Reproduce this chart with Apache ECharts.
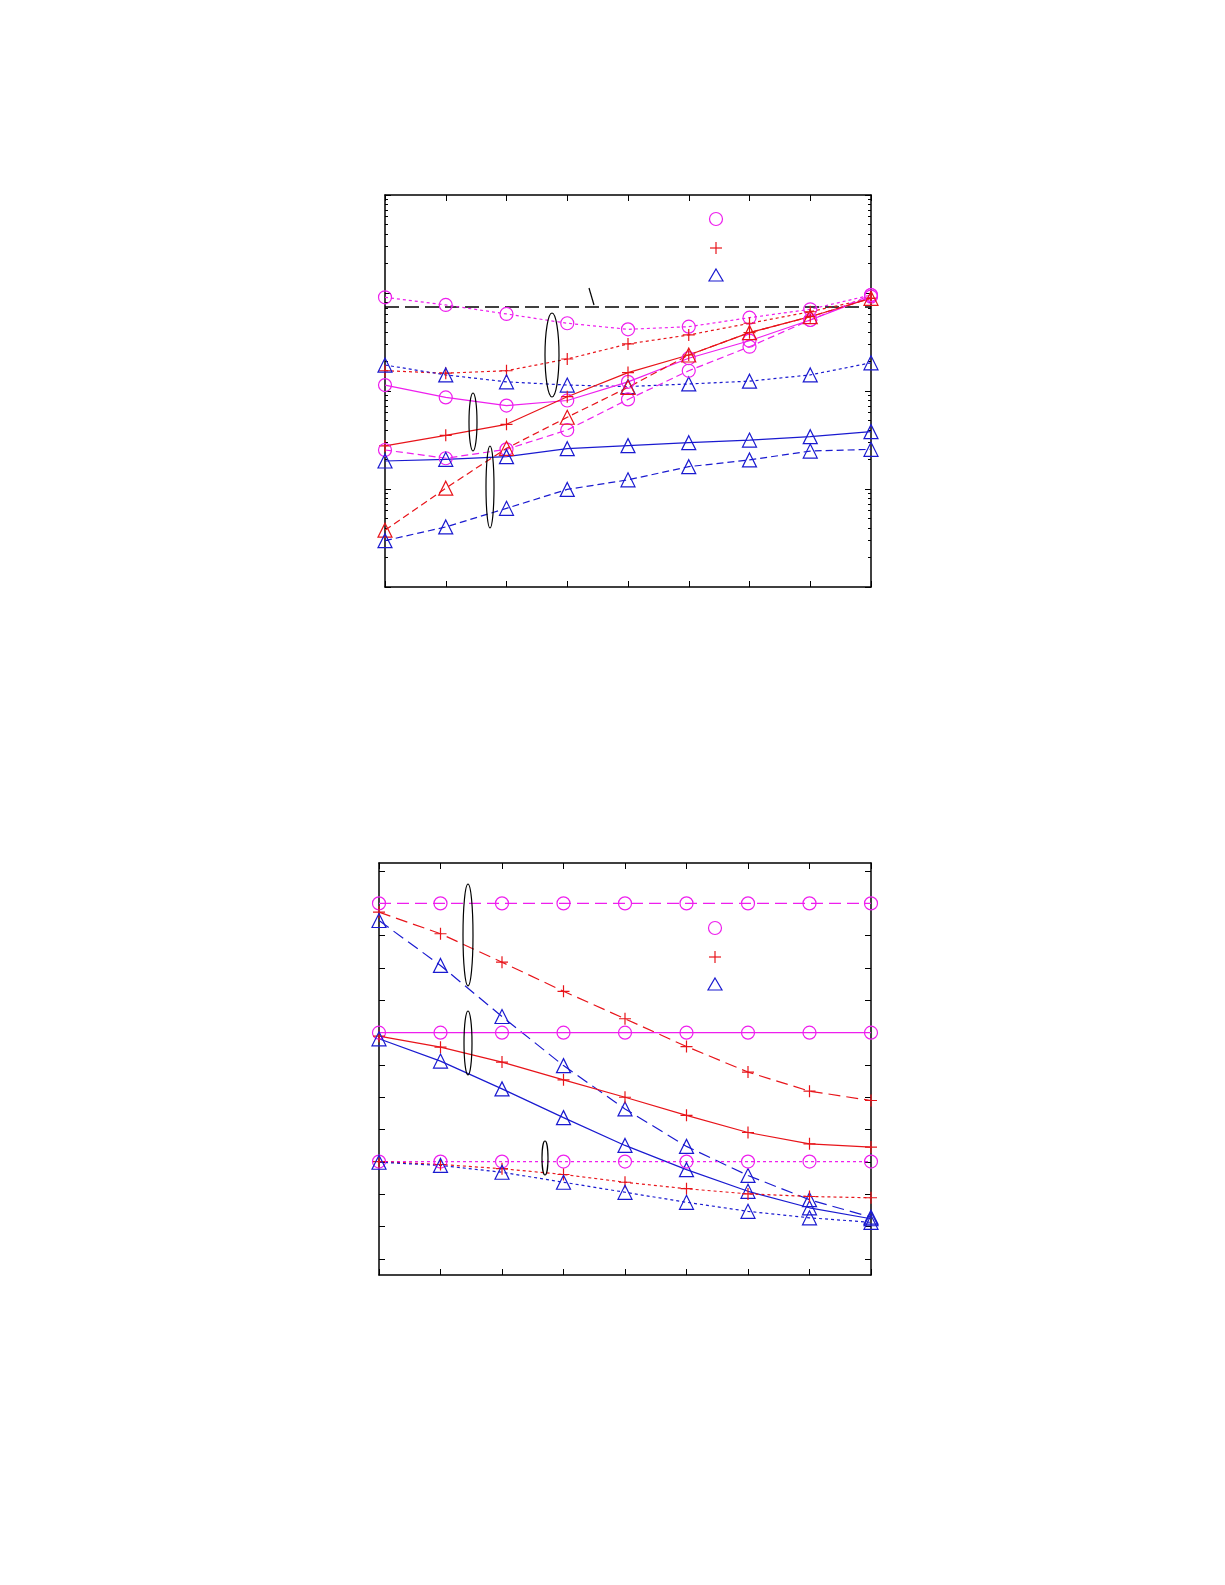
<!DOCTYPE html>
<html><head><meta charset="utf-8">
<script src="https://cdn.jsdelivr.net/npm/echarts@6/dist/echarts.min.js"></script>
<style>html,body{margin:0;background:#fff}#c{width:1225px;height:1585px}</style></head>
<body><div id="c"></div>
<script>
const xs = [0,1,2,3,4,5,6,7,8];
// top chart (log scale)
const topMagDot = [904,755,611,491,426,453,560,682,954];
const topRedDot = [161,152,161,212,302,373,491,644,883];
const topBluDot = [184,146,124,115,111,118,126,146,194];
const topMagSol = [115,86,71,80,124,216,326,530,917];
const topRedSol = [27.5,35.3,45.7,87.5,154,233,394,573,883];
const topMagDash = [25,20.6,25.4,40,82,161,283,530,954];
const topRedDashTri = [3.8,10.2,26,54,109,233,394,573,883];
const topBluSol = [19.3,20.1,21.4,25.8,27.7,29.7,31.6,34.2,38.5];
const topBluDash = [2.97,4.1,6.35,9.9,12.4,16.9,19.8,24.4,25.4];
const topRef = 720;
// bottom chart (linear)
const botMagDash = [11,11,11,11,11,11,11,11,11];
const botRedDash = [10.73,10.06,9.18,8.28,7.43,6.57,5.78,5.19,4.90];
const botBluDash = [10.47,9.08,7.50,5.98,4.64,3.48,2.58,1.83,1.29];
const botMagSol = [7,7,7,7,7,7,7,7,7];
const botRedSol = [6.89,6.55,6.09,5.54,5.00,4.44,3.91,3.56,3.46];
const botBluSol = [6.81,6.12,5.26,4.37,3.51,2.76,2.09,1.58,1.24];
const botMagDot = [3.01,3.01,3.01,3.01,3.01,3.01,3.01,3.01,3.01];
const botRedDot = [3.01,2.92,2.79,2.61,2.37,2.17,2.01,1.93,1.89];
const botBluDot = [2.99,2.89,2.68,2.37,2.06,1.75,1.47,1.27,1.13];

const MAG='#ee1fee', RED='#e8141a', BLU='#1a1ad0';
const PLUS='path://M6,0L6,12M0,6L12,6';
const SYM={c:'circle',p:PLUS,t:'triangle'};
const DOT=[3,3], DASH=[7,4], LDASH=[12,6];
function ser(g, data, color, sym, type){
  return {type:'line', xAxisIndex:g*2, yAxisIndex:g*2, data:data.map((v,i)=>[xs[i],v]),
    symbol:SYM[sym], symbolSize: sym==='p'?12:(sym==='t'?14:13),
    itemStyle:{color:'rgba(0,0,0,0)',borderColor:color,borderWidth:1.2},
    lineStyle:{color,width:1.2,type},
    emphasis:{disabled:true}, z:3, animation:false};
}
const ax=(g,pos,extra)=>Object.assign({gridIndex:g,position:pos,axisLine:{show:true,onZero:false,lineStyle:{color:'#000',width:1.5}},
  axisTick:{show:true,inside:true,length:6,lineStyle:{color:'#000'}},axisLabel:{show:false},splitLine:{show:false}},extra);
const xa=(g,pos)=>ax(g,pos,{type:'value',min:0,max:8,interval:1});
const yTop=(pos)=>ax(0,pos,{type:'log',min:1,max:10000,logBase:10,minorTick:{show:true,length:3,splitNumber:9,lineStyle:{color:'#000'}}});
const yBot=(pos)=>ax(1,pos,{type:'value',min:-0.5,max:12.25,axisTick:{show:true,inside:true,length:6,customValues:[0,1,2,3,4,5,6,7,8,9,10,11,12],lineStyle:{color:'#000'}}});

const series=[
  ser(0,topMagDot,MAG,'c',DOT), ser(0,topRedDot,RED,'p',DOT), ser(0,topBluDot,BLU,'t',DOT),
  ser(0,topMagSol,MAG,'c','solid'), ser(0,topRedSol,RED,'p','solid'), ser(0,topMagDash,MAG,'c',DASH),
  ser(0,topRedDashTri,RED,'t',DASH), ser(0,topBluSol,BLU,'t','solid'), ser(0,topBluDash,BLU,'t',DASH),
  {type:'line',xAxisIndex:0,yAxisIndex:0,data:[[0,topRef],[8,topRef]],symbol:'none',lineStyle:{color:'#000',width:1.3,type:[14,6]},z:2,animation:false},
  ser(1,botMagDash,MAG,'c',LDASH), ser(1,botRedDash,RED,'p',LDASH), ser(1,botBluDash,BLU,'t',LDASH),
  ser(1,botMagSol,MAG,'c','solid'), ser(1,botRedSol,RED,'p','solid'), ser(1,botBluSol,BLU,'t','solid'),
  ser(1,botMagDot,MAG,'c',DOT), ser(1,botRedDot,RED,'p',DOT), ser(1,botBluDot,BLU,'t',DOT)
];
const ell=(cx,cy,rx,ry)=>({type:'ellipse',shape:{cx,cy,rx,ry},style:{fill:null,stroke:'#000',lineWidth:1.2},z:10});
const lg=(x,y,sym,color)=>{
  if(sym==='c') return {type:'circle',shape:{cx:x,cy:y,r:6.5},style:{fill:null,stroke:color,lineWidth:1.2},z:10};
  if(sym==='p') return {type:'line',shape:{x1:x-6,y1:y,x2:x+6,y2:y},style:{stroke:color,lineWidth:1.2},z:10};
  return {type:'polygon',shape:{points:[[x,y-7],[x+7,y+5],[x-7,y+5]]},style:{fill:null,stroke:color,lineWidth:1.2},z:10};
};
const vline=(x,y,color)=>({type:'line',shape:{x1:x,y1:y-6,x2:x,y2:y+6},style:{stroke:color,lineWidth:1.2},z:10});
const chart=echarts.init(document.getElementById('c'));
chart.setOption({
  animation:false,
  grid:[{left:385,top:195,width:486,height:392,containLabel:false,outerBoundsMode:'none'},
        {left:379,top:863,width:492,height:412,containLabel:false,outerBoundsMode:'none'}],
  xAxis:[xa(0,'bottom'),xa(0,'top'),xa(1,'bottom'),xa(1,'top')],
  yAxis:[yTop('left'),yTop('right'),yBot('left'),yBot('right')],
  series,
  graphic:[
    ell(552,355,7,42),ell(473,422,4,29),ell(490,487,4,41),
    {type:'line',shape:{x1:589,y1:288,x2:594,y2:305},style:{stroke:'#000',lineWidth:1.2},z:10},
    lg(716,219,'c',MAG),lg(716,248,'p',RED),vline(716,248,RED),lg(716,276,'t',BLU),
    ell(468,935,5,51),ell(468,1043,4,32),ell(545,1158,3,17),
    lg(715,928,'c',MAG),lg(715,957,'p',RED),vline(715,957,RED),lg(715,985,'t',BLU)
  ]
});
</script></body></html>
